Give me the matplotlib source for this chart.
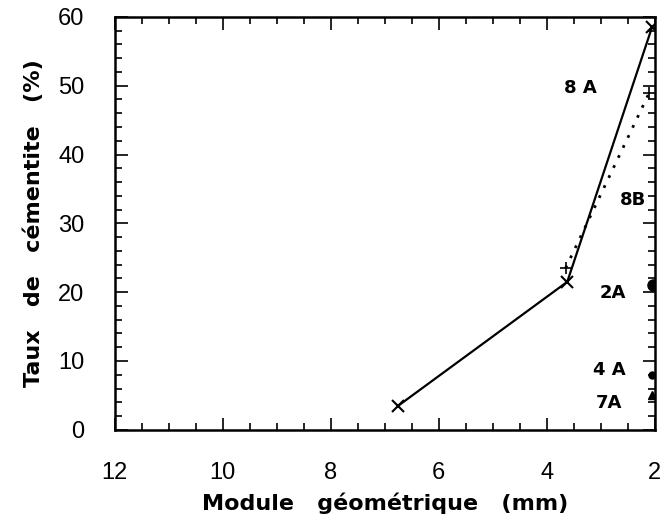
import matplotlib.pyplot as plt
from matplotlib.ticker import MultipleLocator

plt.rcParams['font.family'] = ['DejaVu Sans']

# série 8A (trait plein, croix)
x_8a = [6.75, 3.62, 2.05]
y_8a = [3.5, 21.5, 58.5]
# série 8B (pointillé, plus)
x_8b = [3.65, 2.1]
y_8b = [23.5, 49.0]
# points isolés
x_2a, y_2a = [2.03], [21.0]
x_4a, y_4a = [2.05], [8.0]
x_7a, y_7a = [2.05], [5.0]

labels = ['8 A', '8B', '2A', '4 A', '7A']
label_x = [3.38, 2.4, 2.78, 2.85, 2.85]
label_y = [49.6, 33.4, 19.9, 8.7, 3.9]

fig = plt.figure(figsize=(6.6, 5.28), dpi=100)
ax = fig.add_axes([0.174, 0.186, 0.818, 0.782])

ax.plot(x_8a, y_8a, color='black', lw=1.6, marker='x', ms=9, mew=1.5)
ax.plot(x_8b, y_8b, color='black', lw=2, linestyle=(0, (1, 3)), marker='+', ms=9, mew=1.2)
ax.plot(x_2a, y_2a, 'o', color='black', ms=8)
ax.plot(x_4a, y_4a, 'o', color='black', ms=5)
ax.plot(x_7a, y_7a, '^', color='black', ms=6)

for t, lx, ly in zip(labels, label_x, label_y):
    ax.text(lx, ly, t, fontsize=13, fontweight='bold', ha='center', va='center')

ax.set_xlim(12, 2)
ax.set_ylim(0, 60)
ax.xaxis.set_major_locator(MultipleLocator(2))
ax.xaxis.set_minor_locator(MultipleLocator(0.5))
ax.yaxis.set_major_locator(MultipleLocator(10))
ax.yaxis.set_minor_locator(MultipleLocator(2))
ax.tick_params(which='both', direction='in', top=True, right=True, width=1.2)
ax.tick_params(which='major', length=9, labelsize=17)
ax.tick_params(axis='x', which='major', pad=23)
ax.tick_params(axis='y', which='major', pad=22)
ax.tick_params(which='minor', length=5)
for lbl in ax.get_xticklabels() + ax.get_yticklabels():
    lbl.set_family(['Liberation Sans', 'DejaVu Sans'])
for s in ax.spines.values():
    s.set_linewidth(1.8)

ax.set_xlabel('Module   géométrique   (mm)', fontsize=16, fontweight='bold', labelpad=6)
ax.set_ylabel('Taux   de   cémentite   (%)', fontsize=16, fontweight='bold', labelpad=10)

fig.savefig('out.png', dpi=100)
